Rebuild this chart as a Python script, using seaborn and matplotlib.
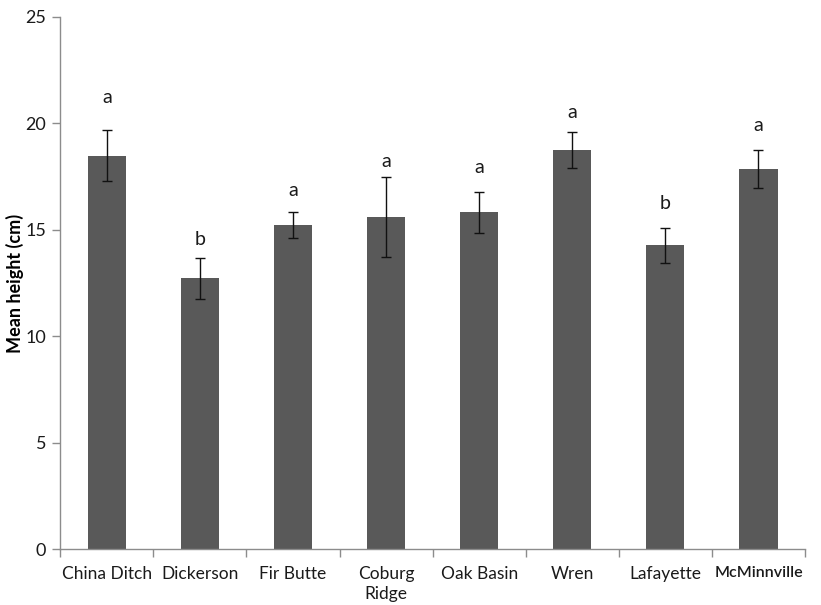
import numpy as np
import pandas as pd
import matplotlib
matplotlib.use("Agg")
import matplotlib.pyplot as plt
import seaborn as sns

# Site means, standard errors and significance groups
sites = ["China Ditch", "Dickerson", "Fir Butte", "Coburg\nRidge", "Oak Basin",
         "Wren", "Lafayette", "McMinnville"]
mean_height = [18.48, 12.72, 15.22, 15.60, 15.82, 18.73, 14.27, 17.84]
std_err = [1.20, 0.95, 0.61, 1.87, 0.95, 0.84, 0.81, 0.89]
groups = ["a", "b", "a", "a", "a", "a", "b", "a"]
group_label_y = [21.2, 14.55, 16.85, 18.2, 17.9, 20.5, 16.25, 19.9]

df = pd.DataFrame({"site": sites, "height": mean_height})

sns.set_theme(style="white")
plt.rcParams["font.family"] = ["Lato", "DejaVu Sans"]

fig = plt.figure(figsize=(8.21, 6.05), dpi=100)
ax = fig.add_axes([0.0734, 0.0921, 0.9071, 0.8803])

sns.barplot(data=df, x="site", y="height", color="#595959", saturation=1,
            width=0.41, errorbar=None, ax=ax, edgecolor="none")

x = np.arange(len(sites))
ax.errorbar(x, mean_height, yerr=std_err, fmt="none", ecolor="#111111",
            elinewidth=1.0, capsize=3.5, capthick=1.0)

for xi, g, gy in zip(x, groups, group_label_y):
    ax.text(xi, gy, g, ha="center", va="center", fontsize=14, color="#1a1a1a")

ax.set_xlim(-0.5, len(sites) - 0.5)
ax.set_ylim(0, 25)
ax.set_yticks([0, 5, 10, 15, 20, 25])

axis_color = "#8c8c8c"
for side in ["top", "right"]:
    ax.spines[side].set_visible(False)
for side in ["left", "bottom"]:
    ax.spines[side].set_color(axis_color)
    ax.spines[side].set_linewidth(1.0)

# category boundary ticks on the x axis
ax.set_xticks(np.arange(-0.5, len(sites) + 0.5, 1.0), minor=True)
ax.tick_params(axis="x", which="major", length=0, pad=12, labelsize=12.5,
               colors="#1a1a1a")
ax.tick_params(axis="x", which="minor", length=6, color=axis_color, width=1.0,
               direction="out", bottom=True)
ax.tick_params(axis="y", which="major", length=6, color=axis_color, width=1.0,
               direction="out", left=True, labelsize=13, labelcolor="#1a1a1a",
               pad=4)
ax.set_xlabel("")
ax.set_ylabel("Mean height (cm)", fontsize=13, fontweight="bold",
              color="black")
ax.yaxis.set_label_coords(-0.049, 0.5)

for lbl in ax.get_xticklabels():
    lbl.set_linespacing(1.3)
    if lbl.get_text() == "McMinnville":
        lbl.set_fontweight("semibold")
        lbl.set_fontsize(11.5)

fig.savefig("out.png", dpi=100)
